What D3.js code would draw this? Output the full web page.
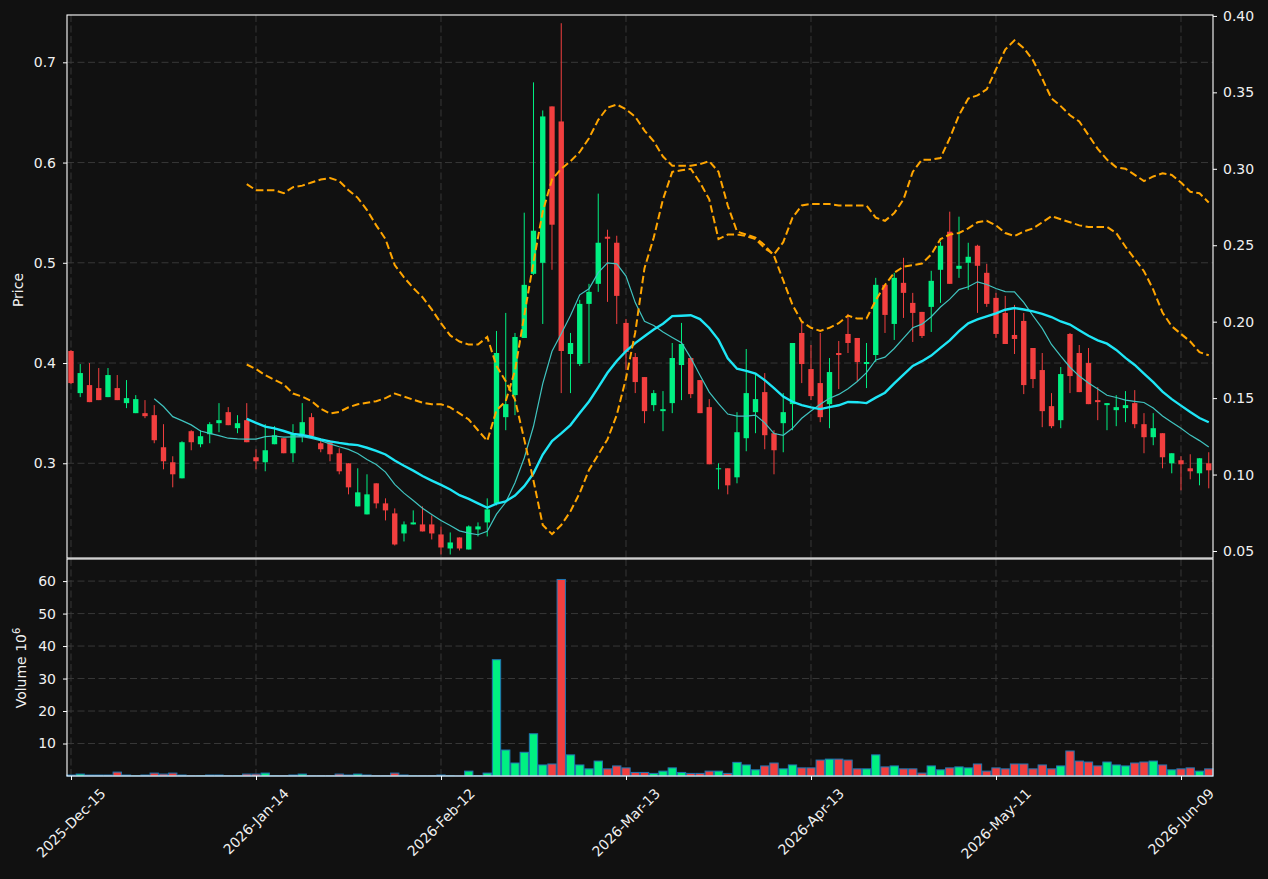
<!DOCTYPE html>
<html><head><meta charset="utf-8">
<script src="https://cdn.jsdelivr.net/npm/d3@7"></script>
<style>html,body{margin:0;padding:0;background:#111111;}svg{display:block;}</style>
</head><body>
<svg id="chart" width="1268" height="879"></svg>
<script>
const openP = [0.412,0.370,0.378,0.375,0.366,0.375,0.360,0.350,0.350,0.348,0.316,0.301,0.285,0.332,0.319,0.329,0.340,0.351,0.335,0.343,
0.306,0.301,0.319,0.325,0.310,0.329,0.346,0.320,0.321,0.310,0.300,0.257,0.249,0.280,0.260,0.250,0.230,0.239,0.239,0.239,
0.229,0.215,0.226,0.214,0.234,0.241,0.260,0.346,0.368,0.425,0.489,0.500,0.656,0.641,0.409,0.399,0.459,0.479,0.526,0.520,
0.440,0.406,0.386,0.358,0.352,0.360,0.398,0.405,0.383,0.356,0.294,0.295,0.286,0.325,0.351,0.371,0.330,0.340,0.359,0.430,
0.394,0.380,0.359,0.410,0.429,0.425,0.399,0.408,0.478,0.439,0.480,0.460,0.451,0.456,0.493,0.531,0.494,0.500,0.517,0.490,
0.465,0.450,0.428,0.442,0.415,0.393,0.357,0.343,0.429,0.410,0.400,0.363,0.358,0.353,0.355,0.360,0.339,0.326,0.330,0.300,
0.303,0.295,0.290,0.300];
const highP = [0.413,0.399,0.400,0.395,0.395,0.388,0.383,0.368,0.363,0.358,0.339,0.307,0.322,0.333,0.333,0.341,0.360,0.356,0.348,0.360,
0.314,0.339,0.337,0.325,0.339,0.360,0.350,0.325,0.323,0.315,0.300,0.295,0.289,0.280,0.265,0.255,0.242,0.253,0.257,0.248,
0.237,0.231,0.226,0.238,0.241,0.265,0.432,0.450,0.430,0.550,0.680,0.652,0.656,0.739,0.430,0.463,0.479,0.569,0.533,0.527,
0.444,0.410,0.386,0.373,0.372,0.420,0.440,0.406,0.383,0.364,0.300,0.295,0.351,0.414,0.389,0.390,0.333,0.370,0.420,0.440,
0.418,0.430,0.405,0.422,0.449,0.425,0.420,0.485,0.478,0.490,0.505,0.470,0.451,0.492,0.521,0.551,0.546,0.520,0.518,0.499,
0.470,0.467,0.458,0.450,0.415,0.410,0.370,0.396,0.430,0.418,0.415,0.376,0.360,0.368,0.372,0.373,0.350,0.350,0.330,0.310,
0.307,0.309,0.305,0.311];
const lowP = [0.379,0.366,0.361,0.363,0.366,0.363,0.355,0.350,0.345,0.320,0.294,0.276,0.285,0.313,0.316,0.320,0.331,0.338,0.330,0.321,
0.294,0.292,0.319,0.310,0.301,0.321,0.327,0.311,0.302,0.289,0.269,0.257,0.249,0.255,0.243,0.218,0.222,0.239,0.232,0.224,
0.209,0.209,0.213,0.214,0.227,0.227,0.258,0.333,0.348,0.425,0.488,0.439,0.493,0.370,0.370,0.397,0.400,0.471,0.461,0.439,
0.393,0.370,0.340,0.352,0.332,0.350,0.363,0.365,0.350,0.299,0.274,0.269,0.280,0.312,0.330,0.314,0.289,0.311,0.333,0.380,
0.363,0.341,0.335,0.374,0.410,0.382,0.375,0.401,0.430,0.423,0.445,0.421,0.425,0.431,0.460,0.479,0.485,0.473,0.450,0.456,
0.425,0.419,0.409,0.369,0.375,0.336,0.335,0.335,0.370,0.371,0.359,0.343,0.333,0.337,0.341,0.335,0.310,0.318,0.295,0.290,
0.273,0.284,0.278,0.275];
const closeP = [0.380,0.390,0.361,0.363,0.388,0.363,0.365,0.364,0.347,0.323,0.302,0.289,0.321,0.321,0.327,0.339,0.343,0.338,0.340,0.321,
0.302,0.313,0.328,0.310,0.329,0.341,0.327,0.314,0.309,0.292,0.276,0.271,0.269,0.260,0.253,0.219,0.239,0.241,0.232,0.230,
0.216,0.221,0.215,0.237,0.237,0.254,0.410,0.359,0.426,0.478,0.532,0.646,0.538,0.412,0.420,0.459,0.471,0.520,0.524,0.467,
0.411,0.381,0.352,0.370,0.354,0.405,0.419,0.369,0.350,0.299,0.295,0.278,0.331,0.370,0.364,0.328,0.313,0.351,0.420,0.399,
0.367,0.346,0.391,0.408,0.420,0.401,0.401,0.478,0.448,0.485,0.470,0.450,0.427,0.482,0.517,0.479,0.497,0.506,0.497,0.459,
0.429,0.419,0.424,0.378,0.384,0.352,0.337,0.389,0.387,0.371,0.359,0.361,0.360,0.356,0.358,0.339,0.326,0.335,0.306,0.310,
0.299,0.292,0.305,0.293];
const volumeM = [0.3,0.6,0.3,0.3,0.3,1.2,0.3,0.1,0.3,0.9,0.6,0.9,0.3,0.1,0.1,0.3,0.3,0.1,0.1,0.6,
0.6,0.9,0.1,0.1,0.3,0.6,0.1,0.1,0.1,0.6,0.3,0.6,0.3,0.1,0.1,0.9,0.3,0.1,0.1,0.1,
0.3,0.1,0.05,1.5,0.1,0.9,35.8,8.0,4.0,7.3,13.0,3.4,3.7,60.5,6.5,3.4,2.2,4.6,2.2,3.1,
2.5,1.1,1.1,0.8,1.5,2.5,1.1,0.8,0.8,1.5,1.5,0.8,4.2,3.4,1.9,3.1,4.0,2.2,3.4,2.5,
2.5,4.9,5.2,5.2,4.9,2.2,2.2,6.5,2.8,3.1,2.2,2.2,0.9,3.1,1.9,2.5,2.8,2.5,3.7,1.5,
2.5,2.2,3.7,3.7,2.2,3.4,2.2,3.1,7.7,4.6,4.3,3.1,4.3,3.4,3.1,4.0,4.3,4.6,3.4,1.9,
2.2,2.5,1.5,2.2];
// secondary-axis dashed series (start at bar 19)
const seriesA = Array(19).fill(null).concat([0.290,0.286,0.286,0.286,0.284,0.288,0.289,0.291,0.293,0.294,0.292,0.286,0.281,0.273,0.263,0.254,0.237,0.229,0.222,0.216,
0.208,0.199,0.191,0.187,0.185,0.185,0.190,0.171,0.161,0.149,0.123,0.096,0.067,0.061,0.067,0.076,0.088,0.103,0.113,0.123,
0.139,0.163,0.193,0.235,0.255,0.280,0.298,0.299,0.300,0.291,0.280,0.254,0.257,0.257,0.256,0.254,0.248,0.244,0.252,0.268,
0.276,0.277,0.277,0.277,0.276,0.276,0.276,0.276,0.268,0.266,0.271,0.280,0.298,0.306,0.306,0.307,0.320,0.335,0.346,0.348,
0.352,0.365,0.378,0.384,0.379,0.371,0.359,0.346,0.341,0.335,0.331,0.322,0.313,0.306,0.301,0.300,0.296,0.292,0.295,0.297,
0.296,0.291,0.285,0.284,0.278]);
const seriesB = Array(19).fill(null).concat([0.172,0.169,0.165,0.162,0.159,0.153,0.151,0.148,0.143,0.140,0.141,0.144,0.146,0.147,0.148,0.150,0.153,0.151,0.149,0.147,
0.146,0.146,0.144,0.140,0.136,0.129,0.122,0.142,0.148,0.168,0.204,0.239,0.272,0.293,0.300,0.305,0.311,0.320,0.332,0.340,
0.342,0.339,0.334,0.325,0.318,0.308,0.302,0.302,0.302,0.303,0.305,0.298,0.276,0.259,0.257,0.255,0.250,0.243,0.227,0.211,
0.200,0.196,0.194,0.196,0.199,0.204,0.202,0.202,0.214,0.224,0.232,0.236,0.237,0.238,0.244,0.254,0.257,0.258,0.261,0.265,
0.266,0.263,0.258,0.256,0.259,0.261,0.265,0.269,0.267,0.265,0.263,0.262,0.262,0.262,0.258,0.249,0.241,0.233,0.221,0.206,
0.197,0.192,0.187,0.180,0.178]);
const tickIdx = [0,20,40,60,80,100,120];
const tickLabels = ["2025-Dec-15","2026-Jan-14","2026-Feb-12","2026-Mar-13","2026-Apr-13","2026-May-11","2026-Jun-09"];
const priceTicks = [0.3,0.4,0.5,0.6,0.7];
const rightTicks = [0.05,0.10,0.15,0.20,0.25,0.30,0.35,0.40];
const volTicks = [10,20,30,40,50,60];

const UP = "#00f082", DOWN = "#f23f3f", TXT = "#f0f0f0", GRID = "#3c3c3c";
const FONT = "DejaVu Sans, Verdana, sans-serif";

function sma(arr, n){ return arr.map((_, i) => i < n-1 ? null : d3.mean(arr.slice(i-n+1, i+1))); }
const ma10 = sma(closeP, 10), ma20 = sma(closeP, 20);

const L = 67, R = 1213, PT = 15, PB = 558, VT = 559, VB = 776;
const svg = d3.select("#chart");
svg.append("rect").attr("width",1268).attr("height",879).attr("fill","#111111");

const x = d3.scaleLinear().domain([-0.432, 123.46]).range([L, R]);
const yP = d3.scaleLinear().domain([0.2055, 0.7472]).range([PB, PT]);
const yR = d3.scaleLinear().domain([0.04542, 0.4006]).range([PB, PT]);
const yV = d3.scaleLinear().domain([0, 66.8]).range([VB, VT]);
const step = x(1) - x(0);
const idx = d3.range(closeP.length);

// grids
const grid = svg.append("g").attr("stroke", GRID).attr("stroke-width", 0.9).attr("stroke-dasharray", "7,3.5");
tickIdx.forEach(t => {
  grid.append("line").attr("x1", x(t)).attr("x2", x(t)).attr("y1", PT).attr("y2", PB);
  grid.append("line").attr("x1", x(t)).attr("x2", x(t)).attr("y1", VT).attr("y2", VB);
});
priceTicks.forEach(p => grid.append("line").attr("x1", L).attr("x2", R).attr("y1", yP(p)).attr("y2", yP(p)));
volTicks.forEach(v => grid.append("line").attr("x1", L).attr("x2", R).attr("y1", yV(v)).attr("y2", yV(v)));

// candles
const cg = svg.append("g");
const bw = step * 0.58;
idx.forEach(i => {
  const up = closeP[i] >= openP[i];
  const col = up ? UP : DOWN;
  cg.append("line").attr("x1", x(i)).attr("x2", x(i)).attr("y1", yP(highP[i])).attr("y2", yP(lowP[i]))
    .attr("stroke", col).attr("stroke-width", 1);
  const top = yP(Math.max(openP[i], closeP[i])), bot = yP(Math.min(openP[i], closeP[i]));
  cg.append("rect").attr("x", x(i) - bw/2).attr("y", top).attr("width", bw).attr("height", Math.max(1, bot - top))
    .attr("fill", col);
});

// volume
const vg = svg.append("g");
const vw = step * 0.9;
idx.forEach(i => {
  const up = closeP[i] >= openP[i];
  vg.append("rect").attr("x", x(i) - vw/2).attr("y", yV(volumeM[i])).attr("width", vw)
    .attr("height", Math.max(0, yV(0) - yV(volumeM[i])))
    .attr("fill", up ? UP : DOWN).attr("stroke", "#1f77b4").attr("stroke-width", 1);
});

// moving averages
const lineP = d3.line().defined(d => d[1] != null).x(d => x(d[0])).y(d => yP(d[1]));
svg.append("path").attr("d", lineP(idx.map(i => [i, ma10[i]]))).attr("fill","none").attr("stroke","#40c4c0").attr("stroke-width",1.2);
svg.append("path").attr("d", lineP(idx.map(i => [i, ma20[i]]))).attr("fill","none").attr("stroke","#1ee6f6").attr("stroke-width",2.4);

// secondary dashed series
const lineR = d3.line().defined(d => d[1] != null).x(d => x(d[0])).y(d => yR(d[1]));
[seriesA, seriesB].forEach(s => {
  svg.append("path").attr("d", lineR(idx.map(i => [i, s[i]]))).attr("fill","none")
    .attr("stroke","#ffa500").attr("stroke-width",2).attr("stroke-dasharray","7.5,3.5");
});

// frames
const fr = svg.append("g").attr("fill","none").attr("stroke","#ffffff").attr("stroke-width",1.1);
fr.append("rect").attr("x", L).attr("y", PT).attr("width", R-L).attr("height", PB-PT);
fr.append("rect").attr("x", L).attr("y", VT).attr("width", R-L).attr("height", VB-VT);

// axes
function styleAxis(g){
  g.select(".domain").remove();
  g.selectAll(".tick line").attr("stroke","#ffffff");
  g.selectAll(".tick text").attr("fill", TXT).attr("font-family", FONT).attr("font-size", 14);
}
svg.append("g").attr("transform", `translate(${L},0)`)
  .call(d3.axisLeft(yP).tickValues(priceTicks).tickFormat(d3.format(".1f")).tickSize(4).tickPadding(7)).call(styleAxis);
svg.append("g").attr("transform", `translate(${R},0)`)
  .call(d3.axisRight(yR).tickValues(rightTicks).tickFormat(d3.format(".2f")).tickSize(4).tickPadding(6)).call(styleAxis);
svg.append("g").attr("transform", `translate(${L},0)`)
  .call(d3.axisLeft(yV).tickValues(volTicks).tickFormat(d3.format("d")).tickSize(4).tickPadding(7)).call(styleAxis);
svg.append("g").attr("transform", `translate(0,${VB})`)
  .call(d3.axisBottom(x).tickValues(tickIdx).tickFormat("").tickSize(4)).call(styleAxis);

// rotated date labels (centered, 45 deg)
tickIdx.forEach((t, k) => {
  const tx = svg.append("text").text(tickLabels[k]).attr("font-family", FONT).attr("font-size", 14)
    .attr("fill", TXT).attr("text-anchor","middle").attr("dominant-baseline","central");
  const len = tx.node().getComputedTextLength();
  const h = (len + 14) * Math.SQRT1_2;
  const cx = x(t), cy = VB + 10 + h/2;
  tx.attr("x", cx).attr("y", cy).attr("transform", `rotate(-45,${cx},${cy})`);
});

// axis titles
svg.append("text").attr("transform","translate(23,290) rotate(-90)").attr("text-anchor","middle")
  .attr("font-family", FONT).attr("font-size", 14).attr("fill", TXT).text("Price");
const vt = svg.append("text").attr("transform","translate(26,668) rotate(-90)").attr("text-anchor","middle")
  .attr("font-family", FONT).attr("font-size", 14).attr("fill", TXT);
vt.append("tspan").text("Volume  10");
vt.append("tspan").attr("dy", -6).attr("font-size", 10).text("6");
</script>
</body></html>
